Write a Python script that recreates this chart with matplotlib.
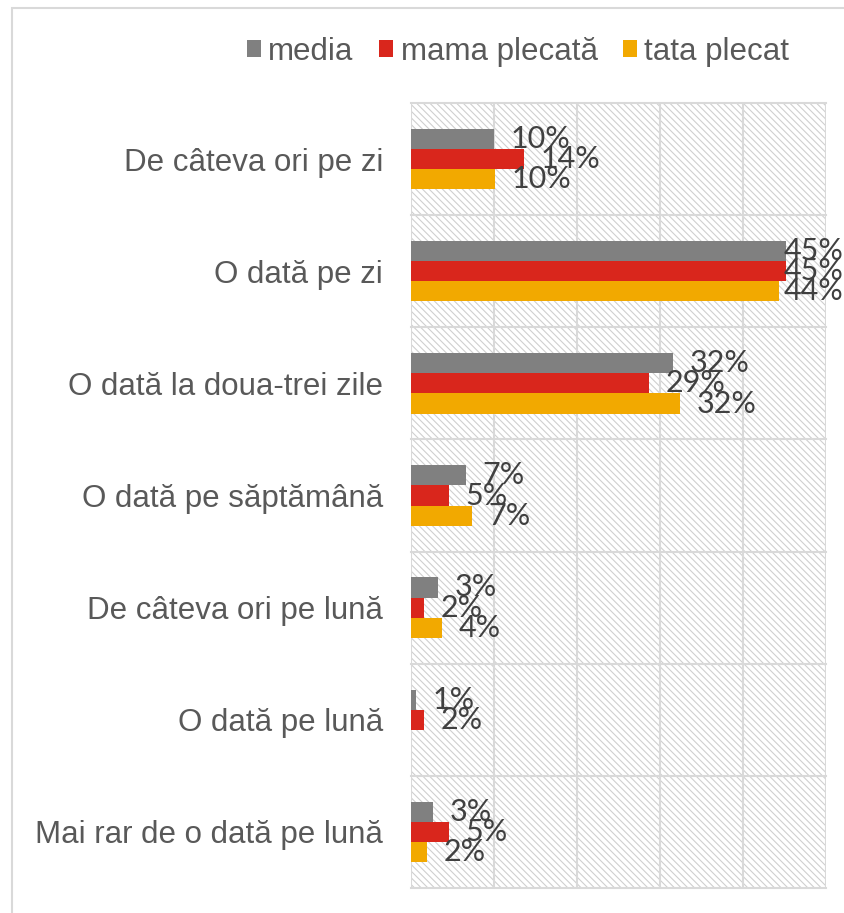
import matplotlib.pyplot as plt
import numpy as np
from matplotlib.patches import Rectangle

plt.rcParams['font.family'] = ['Liberation Sans', 'DejaVu Sans']
plt.rcParams['hatch.linewidth'] = 0.8
plt.rcParams['hatch.color'] = '#cfcfcf'

# date
categorii = ['De câteva ori pe zi', 'O dată pe zi', 'O dată la doua-trei zile',
             'O dată pe săptămână', 'De câteva ori pe lună', 'O dată pe lună',
             'Mai rar de o dată pe lună']
media = [10.0, 45.2, 31.6, 6.6, 3.3, 0.6, 2.7]
mama = [13.6, 45.2, 28.7, 4.6, 1.6, 1.6, 4.6]
tata = [10.1, 44.3, 32.4, 7.3, 3.7, 0.0, 1.9]
etichete_media = ['10%', '45%', '32%', '7%', '3%', '1%', '3%']
etichete_mama = ['14%', '45%', '29%', '5%', '2%', '2%', '5%']
etichete_tata = ['10%', '44%', '32%', '7%', '4%', '', '2%']

serii = [('media', media, etichete_media, '#808080'),
         ('mama plecată', mama, etichete_mama, '#D9261C'),
         ('tata plecat', tata, etichete_tata, '#F2A900')]

fig = plt.figure(figsize=(8.44, 9.13), dpi=100)
ax = fig.add_axes([411 / 844, 1 - 888 / 913, 415 / 844, 785 / 913])

y = np.arange(len(categorii))
h = 0.18

# fundal hașurat
ax.add_patch(Rectangle((0, -0.5), 50, len(categorii), facecolor='white',
                       edgecolor='#cfcfcf', hatch='\\\\\\\\\\', lw=0, zorder=0))

for i, (nume, vals, et, col) in enumerate(serii):
    pos = y + (i - 1) * h
    ax.barh(pos, vals, height=h, color=col, label=nume, zorder=3)
    for p, v, t in zip(pos, vals, et):
        if t:
            ax.text(min(v + 2.0, 44.9), p, t, va='center', ha='left',
                    fontsize=22, family='Lato', color='#404040', zorder=4,
                    clip_on=False)

ax.set_xlim(0, 50)
ax.set_ylim(len(categorii) - 0.5, -0.5)
ax.set_yticks(y)
ax.set_yticklabels(categorii, fontsize=22.5, color='#595959')
ax.tick_params(axis='y', length=0, pad=20)
ax.set_xticks([])

for xv in range(0, 51, 10):
    ax.axvline(xv, color='#d9d9d9', lw=1.5, zorder=1)
for yv in np.arange(-0.5, len(categorii), 1):
    ax.axhline(yv, color='#d9d9d9', lw=1.5, zorder=1, clip_on=False)
for s in ax.spines.values():
    s.set_visible(False)

fig.legend(loc='center', bbox_to_anchor=(518 / 844, 1 - 52 / 913), ncol=3,
           frameon=False, fontsize=22.5, handlelength=0.45, handleheight=0.45,
           handletextpad=0.25, columnspacing=0.8, labelcolor='#595959')

# chenar exterior
fig.add_artist(Rectangle((11.5 / 844, -0.1), 1.2, 1.1 - 8.5 / 913,
                         transform=fig.transFigure, fill=False,
                         edgecolor='#d9d9d9', lw=1.5))

fig.savefig('out.png', dpi=100)
